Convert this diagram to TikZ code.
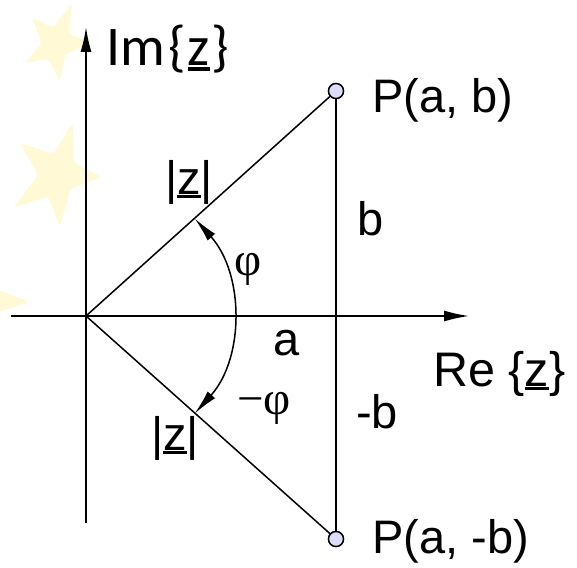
\documentclass[tikz,border=0pt]{standalone}
\usepackage{fontspec}
\setmainfont{Liberation Sans}
\newfontfamily\grkfont{Liberation Serif}
\newfontfamily\carlitofont{Carlito}
\usetikzlibrary{arrows.meta,calc}
\definecolor{staryellow}{RGB}{255,249,214}
\definecolor{ptfill}{RGB}{221,221,250}
\newcommand\uz{{\setbox0\hbox{z}\rlap{\rule[-0.09em]{\wd0}{0.065em}}z}}
\tikzset{
  axis/.style={line width=1.6pt,-{Latex[length=25pt,width=11pt]}},
  edge/.style={line width=1.5pt},
  pt/.style={circle,draw,line width=1.4pt,fill=ptfill,minimum size=15pt,inner sep=0pt},
  lbl/.style={inner sep=0pt,font=\fontsize{47}{50}\selectfont},
  grklbl/.style={inner sep=0pt,font=\grkfont\fontsize{47}{50}\selectfont},
  starshape/.style={fill=staryellow,draw=none,rounded corners=4pt},
}
\newcommand\drawstar[6]{%
  \fill[starshape] #2 -- ($#1!0.5!($#2!0.5!#3$)$) -- #3 -- ($#1!0.5!($#3!0.5!#4$)$) -- #4
   -- ($#1!0.5!($#4!0.5!#5$)$) -- #5 -- ($#1!0.5!($#5!0.5!#6$)$) -- #6
   -- ($#1!0.5!($#6!0.5!#2$)$) -- cycle;}
\begin{document}
\begin{tikzpicture}[x=1pt,y=-1pt]
\useasboundingbox (0,0) rectangle (577,567);
% background stars
\drawstar{(55,45)}{(72,3)}{(32,18)}{(25,63)}{(60,82)}{(93,43)}
\drawstar{(60,175)}{(73,123)}{(20,143)}{(13,208)}{(60,227)}{(102,177)}
\drawstar{(-20,300)}{(30,302)}{(-5,255)}{(-55,270)}{(-60,330)}{(-10,350)}
% axes
\coordinate (O) at (86,316);
\coordinate (ybot) at (86,523);
\coordinate (ytop) at (86,27);
\coordinate (xl) at (11,316);
\coordinate (xr) at (469,316);
\draw[axis] (ybot) -- (ytop);
\draw[axis] (xl) -- (xr);
% points
\node[pt] (P) at (336,91) {};
\node[pt] (Q) at (336,539) {};
\draw[edge] (O) -- (P.center);
\draw[edge] (O) -- (Q.center);
\draw[edge] (P) -- (Q);
\node[pt] at (P) {};
\node[pt] at (Q) {};
% angle arc
\coordinate (A1) at ($(O)+(-41.9:146)$);
\draw[line width=1.5pt,{Latex[length=25pt,width=10pt]}-{Latex[length=25pt,width=10pt]}]
  (A1) arc[start angle=-41.9,end angle=41.9,radius=146];
% labels
\node[inner sep=0pt,anchor=base west,font=\carlitofont\fontsize{56}{60}\selectfont] (im) at (106,66) {Im\kern3pt\{\kern2pt\uz\kern2pt\}};
\node[lbl,anchor=base west,font=\fontsize{48.5}{52}\selectfont] (re) at (433,386) {Re \{\uz\}};
\node[lbl,anchor=base west] (pab) at (372,112) {P(a, b)};
\node[lbl,anchor=base west] (pamb) at (372,553) {P(a, -b)};
\node[lbl,anchor=base west] (z1) at (165,194) {|\uz|};
\node[lbl,anchor=base west] (z2) at (151,450) {|\uz|};
\node[lbl,anchor=base west] (b) at (357,235) {b};
\node[lbl,anchor=base west] (mb) at (356,428) {-b};
\node[lbl,anchor=base west] (a) at (273,355) {a};
\node[grklbl] (phi) at (248,269) {φ};
\node[grklbl] (mphi) at (264,408) {−φ};
\end{tikzpicture}
\end{document}
